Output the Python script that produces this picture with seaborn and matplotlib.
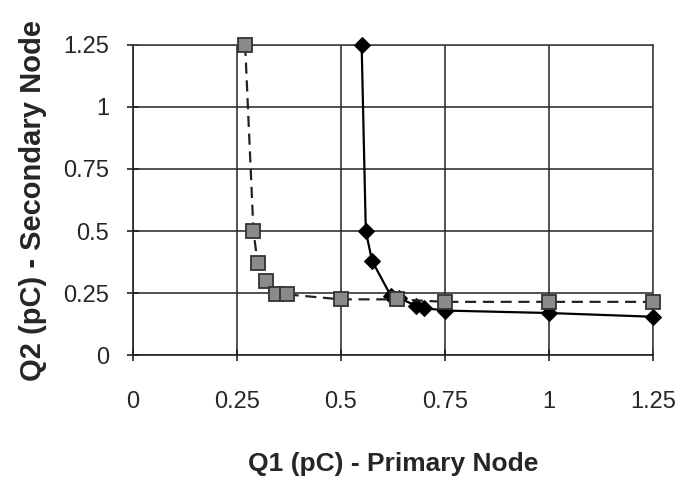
import matplotlib
matplotlib.use("Agg")
import matplotlib.pyplot as plt
import seaborn as sns
import pandas as pd

# Square series (dashed)
sq_q1 = [0.27, 0.29, 0.30, 0.32, 0.345, 0.37, 0.50, 0.635, 0.75, 1.00, 1.25]
sq_q2 = [1.25, 0.50, 0.37, 0.30, 0.245, 0.245, 0.225, 0.225, 0.215, 0.215, 0.215]
# Diamond series (solid)
dm_q1 = [0.55, 0.56, 0.575, 0.62, 0.64, 0.68, 0.70, 0.75, 1.00, 1.25]
dm_q2 = [1.25, 0.50, 0.38, 0.24, 0.23, 0.20, 0.19, 0.18, 0.17, 0.155]

xticks = [0, 0.25, 0.5, 0.75, 1, 1.25]
yticks = [0, 0.25, 0.5, 0.75, 1, 1.25]
xtick_labels = ["0", "0.25", "0.5", "0.75", "1", "1.25"]
ytick_labels = ["0", "0.25", "0.5", "0.75", "1", "1.25"]

sns.set_style("white")
plt.rcParams['font.family'] = ['Liberation Sans', 'DejaVu Sans']

fig = plt.figure(figsize=(6.88, 4.82), dpi=100)
ax = fig.add_axes([0.193, 0.263, 0.756, 0.644])

df_sq = pd.DataFrame({"q1": sq_q1, "q2": sq_q2})
df_dm = pd.DataFrame({"q1": dm_q1, "q2": dm_q2})

sns.lineplot(data=df_dm, x="q1", y="q2", sort=False, ax=ax, color="black",
             linewidth=1.6, marker="D", markersize=8, markerfacecolor="black",
             markeredgecolor="black", zorder=4, clip_on=False)
sns.lineplot(data=df_sq, x="q1", y="q2", sort=False, ax=ax, color="#222222",
             linewidth=1.6, linestyle=(0, (5, 3)), marker="s", markersize=10,
             markerfacecolor="#8a8a8a", markeredgecolor="#333333",
             markeredgewidth=1.3, zorder=5, clip_on=False)

ax.set_xlim(0, 1.25)
ax.set_ylim(0, 1.25)
ax.set_xticks(xticks)
ax.set_xticklabels(xtick_labels)
ax.set_yticks(yticks)
ax.set_yticklabels(ytick_labels)
ax.grid(True, color="#333333", linewidth=1.2)
ax.set_axisbelow(True)
for s in ax.spines.values():
    s.set_color("#444444")
    s.set_linewidth(1.2)
ax.spines['left'].set_color("#222222")
ax.spines['bottom'].set_color("#222222")

ax.tick_params(axis="both", which="major", labelsize=17, direction="inout",
               length=8, width=1.2, color="#222222")
ax.tick_params(axis="y", left=True, pad=13)
ax.tick_params(axis="x", bottom=True, pad=22)

ax.set_xlabel("Q1 (pC) - Primary Node", fontsize=19, fontweight="bold", labelpad=28)
ax.set_ylabel("Q2 (pC) - Secondary Node", fontsize=21, fontweight="bold", labelpad=12)

fig.savefig("out.png", dpi=100)
